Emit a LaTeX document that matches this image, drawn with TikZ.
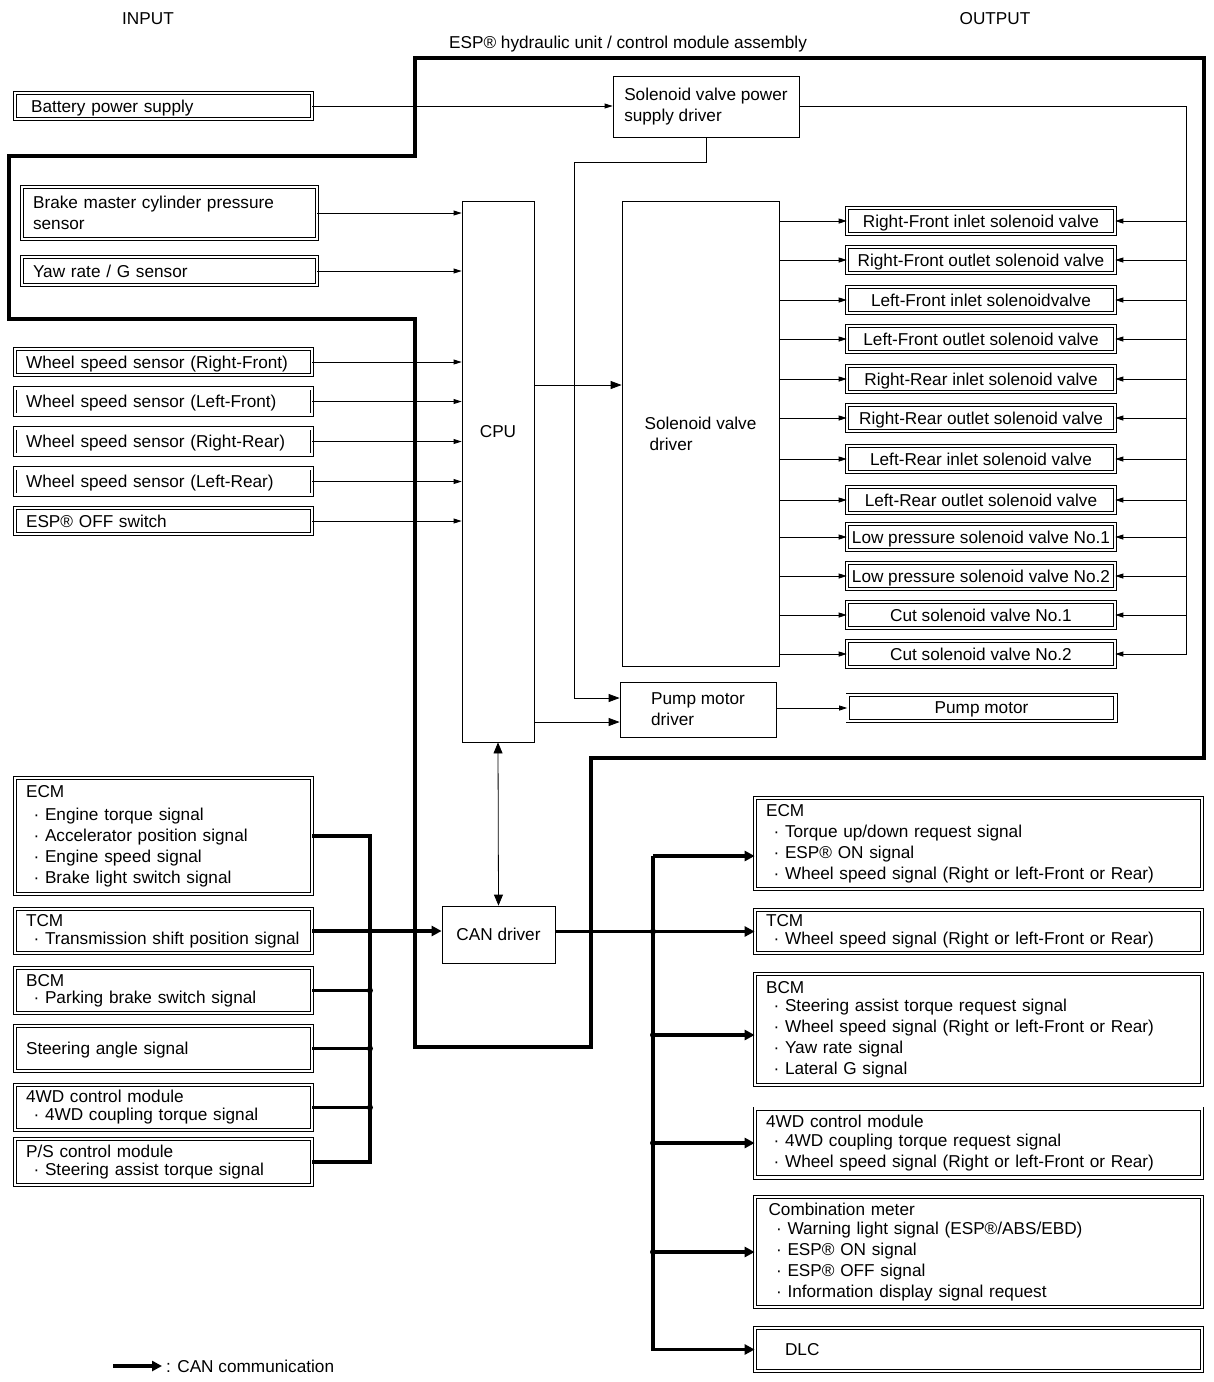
\documentclass[tikz,border=0pt]{standalone}
\usepackage{fontspec}
\setmainfont{Liberation Sans}
\usetikzlibrary{arrows.meta}
\newcommand{\sig}{\hspace*{7.5pt}·\ }
\hyphenpenalty=10000
\exhyphenpenalty=10000

\begin{document}
\begin{tikzpicture}[x=1pt, y=-1pt,
	font=\fontsize{17.2}{21}\selectfont,
	box/.style={draw, line width=0.8pt, inner sep=2pt},
	dbox/.style={draw, double, double distance=2.5pt, line width=0.8pt, inner xsep=11pt, inner ysep=2pt, align=left},
	one/.style={text depth=0pt},
	inbox/.style={dbox, minimum width=296.9pt, text width=274.9pt},
	outbox/.style={dbox, minimum width=446.9pt, text width=424.9pt},
	vbox/.style={dbox, one, inner xsep=1pt, align=center, minimum width=267.9pt, minimum height=25.9pt},
	arr/.style={line width=0.8pt, -{Triangle[length=8pt,width=5pt]}},
	arrb/.style={line width=0.8pt, -{Triangle[length=11pt,width=8pt]}},
	dblarr/.style={line width=0.8pt, {Triangle[length=11pt,width=9pt]}-{Triangle[length=11pt,width=9pt]}},
	can/.style={line width=3.2pt},
	canarr/.style={can, -{Triangle[length=10pt,width=10pt]}},
	frame/.style={line width=3.5pt}]
	\useasboundingbox (0,0) rectangle (1214,1382);

	\node (inlbl) at (148,19) {INPUT};
	\node (outlbl) at (995,19) {OUTPUT};
	\node (asmlbl) at (628,44) {ESP® hydraulic unit / control module assembly};

	\draw[frame] (415,58) -- (1204,58) -- (1204,758) -- (591,758) -- (591,1047) -- (415,1047)
		-- (415,319) -- (9,319) -- (9,156) -- (415,156) -- cycle;

	\node[box, align=left, minimum width=186pt, minimum height=61pt] (svp) at (706,106.5) {Solenoid valve power\\supply driver};
	\node[box, minimum width=72pt, minimum height=541pt, label={[yshift=39.5pt]center:CPU}] (cpu) at (498,471.5) {};
	\node[box, align=left, minimum width=157pt, minimum height=465pt] (svd) at (700.5,433.5) {Solenoid valve\\\hspace*{5pt}driver};
	\node[box, align=left, minimum width=156pt, minimum height=55pt] (pmd) at (698,709.5) {Pump motor\\driver};
	\node[box, one, minimum width=113pt, minimum height=57pt] (can) at (498.5,934.5) {CAN driver};

	\node[inbox, one, minimum height=25.9pt] (bat) at (163.5,106) {\hspace*{5pt}Battery power supply};
	\node[inbox, minimum width=294.9pt, text width=272.9pt, minimum height=51.9pt] (brk) at (169.5,213) {Brake master cylinder pressure\\sensor};
	\node[inbox, one, minimum width=294.9pt, text width=272.9pt, minimum height=27.9pt] (yaw) at (169.5,271) {Yaw rate / G sensor};
	\node[inbox, one, minimum height=26.4pt] (wrf) at (163.5,362) {Wheel speed sensor (Right-Front)};
	\node[inbox, one, minimum height=26.4pt] (wlf) at (163.5,401.5) {Wheel speed sensor (Left-Front)};
	\node[inbox, one, minimum height=26.4pt] (wrr) at (163.5,441.5) {Wheel speed sensor (Right-Rear)};
	\node[inbox, one, minimum height=26.4pt] (wlr) at (163.5,481.5) {Wheel speed sensor (Left-Rear)};
	\node[inbox, one, minimum height=26.4pt] (esp) at (163.5,521) {ESP® OFF switch};

	\node[vbox] (v1) at (981,221) {Right-Front inlet solenoid valve};
	\node[vbox] (v2) at (981,260) {Right-Front outlet solenoid valve};
	\node[vbox] (v3) at (981,300) {Left-Front inlet solenoidvalve};
	\node[vbox] (v4) at (981,339) {Left-Front outlet solenoid valve};
	\node[vbox] (v5) at (981,379) {Right-Rear inlet solenoid valve};
	\node[vbox] (v6) at (981,418) {Right-Rear outlet solenoid valve};
	\node[vbox] (v7) at (981,459) {Left-Rear inlet solenoid valve};
	\node[vbox] (v8) at (981,500) {Left-Rear outlet solenoid valve};
	\node[vbox] (v9) at (981,537) {Low pressure solenoid valve No.1};
	\node[vbox] (v10) at (981,576) {Low pressure solenoid valve No.2};
	\node[vbox] (v11) at (981,615) {Cut solenoid valve No.1};
	\node[vbox] (v12) at (981,654) {Cut solenoid valve No.2};
	\node[vbox] (pm) at (981.5,708) {Pump motor};

	\node[inbox, minimum height=115.9pt] (ecmi) at (163.5,836) {ECM\\[2pt]\sig Engine torque signal\\\sig Accelerator position signal\\\sig Engine speed signal\\\sig Brake light switch signal};
	\node[inbox, inner xsep=4pt, text width=288.9pt, minimum height=43.9pt] (tcmi) at (163.5,931) {\hspace*{7pt}TCM\\[-3pt]\hspace*{7pt}\sig Transmission shift position signal};
	\node[inbox, minimum height=44.9pt] (bcmi) at (163.5,990.5) {BCM\\[-4pt]\sig Parking brake switch signal};
	\node[inbox, one, minimum height=44.9pt] (stri) at (163.5,1048.5) {Steering angle signal};
	\node[inbox, minimum height=44.9pt] (fwdi) at (163.5,1107.5) {4WD control module\\[-3pt]\sig 4WD coupling torque signal};
	\node[inbox, minimum height=45.9pt] (psi) at (163.5,1162) {P/S control module\\[-3pt]\sig Steering assist torque signal};

	\node[outbox, minimum height=90.9pt] (ecmo) at (978.5,843.5) {ECM\\\sig Torque up/down request signal\\\sig ESP® ON signal\\\sig Wheel speed signal (Right or left-Front or Rear)};
	\node[outbox, minimum height=42.9pt] (tcmo) at (978.5,931.5) {TCM\\[-3pt]\sig Wheel speed signal (Right or left-Front or Rear)};
	\node[outbox, minimum height=110.9pt] (bcmo) at (978.5,1029.5) {BCM\\[-3pt]\sig Steering assist torque request signal\\\sig Wheel speed signal (Right or left-Front or Rear)\\\sig Yaw rate signal\\\sig Lateral G signal};
	\node[outbox, minimum height=68.9pt] (fwdo) at (978.5,1143) {4WD control module\\[-2pt]\sig 4WD coupling torque request signal\\\sig Wheel speed signal (Right or left-Front or Rear)};
	\node[outbox, minimum height=109.9pt] (cmo) at (978.5,1252) {\hspace*{2.5pt}Combination meter\\[-1.5pt]\hspace*{2.5pt}\sig Warning light signal (ESP®/ABS/EBD)\\\hspace*{2.5pt}\sig ESP® ON signal\\\hspace*{2.5pt}\sig ESP® OFF signal\\\hspace*{2.5pt}\sig Information display signal request};
	\node[outbox, one, minimum height=42.9pt] (dlco) at (978.5,1349.5) {\hspace*{19pt}DLC};

	\node[anchor=west, inner sep=4pt] (lgd) at (162,1366) {: CAN communication};

	\coordinate (vbus) at (1186,106);
	\coordinate (pwr) at (574,162);
	\coordinate (svdin) at ([yshift=48.5pt]svd.west);
	\coordinate (pmin1) at ([yshift=11.5pt]pmd.west);
	\coordinate (pmin2) at ([yshift=-12.5pt]pmd.west);
	\coordinate (jin) at (370,1049);
	\coordinate (jout) at (653,856);
	\coordinate (bcmin) at ([yshift=-5.5pt]bcmo.west);
	\coordinate (lgdt) at (113,1366);

	\draw[arr] (bat.east) -- (bat.east -| svp.west);
	\draw[arr] (svp.east |- vbus) -- (vbus) |- (v12.east);
	\draw[arr] (vbus |- v1.east) -- (v1.east);
	\draw[arr] (vbus |- v2.east) -- (v2.east);
	\draw[arr] (vbus |- v3.east) -- (v3.east);
	\draw[arr] (vbus |- v4.east) -- (v4.east);
	\draw[arr] (vbus |- v5.east) -- (v5.east);
	\draw[arr] (vbus |- v6.east) -- (v6.east);
	\draw[arr] (vbus |- v7.east) -- (v7.east);
	\draw[arr] (vbus |- v8.east) -- (v8.east);
	\draw[arr] (vbus |- v9.east) -- (v9.east);
	\draw[arr] (vbus |- v10.east) -- (v10.east);
	\draw[arr] (vbus |- v11.east) -- (v11.east);
	\draw[arr] (svd.east |- v1.west) -- (v1.west);
	\draw[arr] (svd.east |- v2.west) -- (v2.west);
	\draw[arr] (svd.east |- v3.west) -- (v3.west);
	\draw[arr] (svd.east |- v4.west) -- (v4.west);
	\draw[arr] (svd.east |- v5.west) -- (v5.west);
	\draw[arr] (svd.east |- v6.west) -- (v6.west);
	\draw[arr] (svd.east |- v7.west) -- (v7.west);
	\draw[arr] (svd.east |- v8.west) -- (v8.west);
	\draw[arr] (svd.east |- v9.west) -- (v9.west);
	\draw[arr] (svd.east |- v10.west) -- (v10.west);
	\draw[arr] (svd.east |- v11.west) -- (v11.west);
	\draw[arr] (svd.east |- v12.west) -- (v12.west);
	\draw[arr] (brk.east) -- (brk.east -| cpu.west);
	\draw[arr] (yaw.east) -- (yaw.east -| cpu.west);
	\draw[arr] (wrf.east) -- (wrf.east -| cpu.west);
	\draw[arr] (wlf.east) -- (wlf.east -| cpu.west);
	\draw[arr] (wrr.east) -- (wrr.east -| cpu.west);
	\draw[arr] (wlr.east) -- (wlr.east -| cpu.west);
	\draw[arr] (esp.east) -- (esp.east -| cpu.west);
	\draw[arrb] (svp.south) |- (pwr) |- (pmin1);
	\draw[arrb] (svdin -| cpu.east) -- (svdin);
	\draw[arrb] (pmin2 -| cpu.east) -- (pmin2);
	\draw[arr] (pmd.east |- pm.west) -- (pm.west);
	\draw[dblarr] (cpu.south) -- (can.north);

	\draw[can] (ecmi.east) -| (jin) |- (psi.east);
	\draw[canarr] (tcmi.east) -- (tcmi.east -| can.west);
	\draw[can] (bcmi.east) -- (bcmi.east -| jin);
	\draw[can] (stri.east) -- (stri.east -| jin);
	\draw[can] (fwdi.east) -- (fwdi.east -| jin);
	\fill (tcmi.east -| jin) circle (3pt);
	\fill (bcmi.east -| jin) circle (3pt);
	\fill (stri.east -| jin) circle (3pt);
	\fill (fwdi.east -| jin) circle (3pt);

	\draw[canarr] (jout) -- (jout -| ecmo.west);
	\draw[canarr] (jout) |- (dlco.west);
	\draw[canarr] (can.east |- tcmo.west) -- (tcmo.west);
	\draw[canarr] (bcmin -| jout) -- (bcmin);
	\draw[canarr] (fwdo.west -| jout) -- (fwdo.west);
	\draw[canarr] (cmo.west -| jout) -- (cmo.west);
	\fill (tcmo.west -| jout) circle (3pt);
	\fill (bcmin -| jout) circle (3pt);
	\fill (fwdo.west -| jout) circle (3pt);
	\fill (cmo.west -| jout) circle (3pt);

	\draw[canarr] (lgdt) -- (lgd.west);
\end{tikzpicture}
\end{document}
